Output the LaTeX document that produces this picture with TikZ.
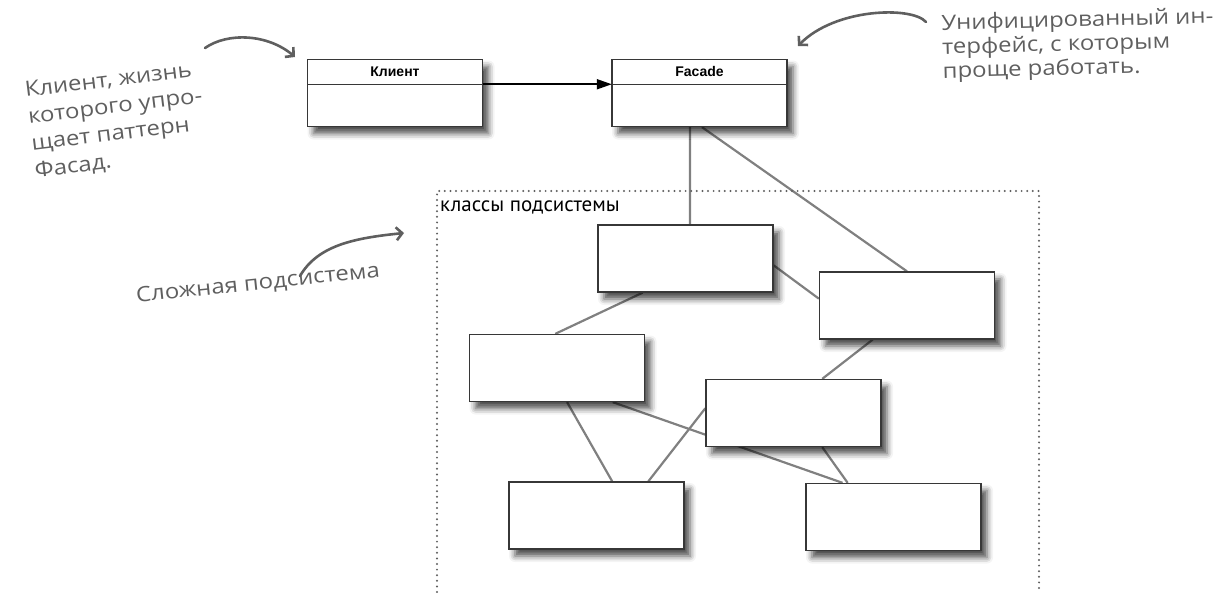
\documentclass[tikz,border=0pt]{standalone}
\usepackage{fontspec}
\setmainfont{Liberation Sans}
\newfontfamily\handfont{Open Sans}[FakeStretch=1.14]
\newfontfamily\labelfont{PT Sans}
\usepackage{xcolor}
\definecolor{notegray}{RGB}{95,95,95}
\definecolor{linkgray}{RGB}{128,128,128}
\definecolor{dotgray}{RGB}{95,95,95}
\definecolor{edgegray}{RGB}{55,55,55}
\usetikzlibrary{arrows.meta,positioning,calc,shadows.blur,backgrounds}

\begin{document}
\begin{tikzpicture}[
  x=1pt, y=-1pt,
  classbox/.style={draw=edgegray,line width=1.3pt,fill=white,minimum width=175pt,minimum height=67pt,
                   inner sep=0pt,blur shadow={shadow xshift=6pt,shadow yshift=-7pt,shadow blur radius=6pt,shadow opacity=70}},
  classhead/.style={font=\bfseries\fontsize{14}{16}\selectfont,minimum width=175pt,minimum height=25pt,inner sep=0pt},
  link/.style={draw=linkgray,line width=2.2pt},
  note/.style={font=\handfont\fontsize{21}{27}\selectfont,text=notegray,align=left,inner sep=0pt},
  notearrow/.style={draw=notegray,line width=2.6pt,line cap=round,-{Straight Barb[length=6pt,width=13pt]}},
]
  \useasboundingbox (0,0) rectangle (1222,592);

  % Client and facade
  \node[classbox] (klient) at (395,93) {};
  \node[classhead,below=0pt of klient.north] (klienthead) {Клиент};
  \draw[edgegray,line width=1.3pt] (klienthead.south west) -- (klienthead.south east);
  \node[classbox] (facade) at (699.5,93) {};
  \node[classhead,below=0pt of facade.north] (facadehead) {Facade};
  \draw[edgegray,line width=1.3pt] (facadehead.south west) -- (facadehead.south east);
  \draw[line width=1.8pt,-{Triangle[length=15pt,width=10pt]}] (klienthead.south east) -- (facadehead.south west);

  % Subsystem frame
  \draw[dotgray,line width=2.2pt,line cap=round,dash pattern=on 0pt off 5.6pt]
    (437,592) -- (437,191) -- (1039,191) -- (1039,592);
  \node[font=\labelfont\fontsize{21}{24}\selectfont,anchor=base west,inner sep=0pt] (sublabel) at (440,211) {классы подсистемы};

  % Subsystem classes
  \node[classbox] (b1) at (685.5,258.5) {};
  \node[classbox] (b2) at (907,305.5) {};
  \node[classbox] (b3) at (557,368) {};
  \node[classbox] (b4) at (793.5,413) {};
  \node[classbox] (b5) at (596.5,515.5) {};
  \node[classbox] (b6) at (893.5,517) {};

  \begin{scope}[on background layer]
    \draw[link] ($(facade.south west)!0.446!(facade.south east)$) -- ($(b1.north west)!0.526!(b1.north east)$);
    \draw[link] ($(facade.south west)!0.514!(facade.south east)$) -- (b2.north);
    \draw[link] ($(b1.north east)!0.6!(b1.south east)$) -- ($(b2.north west)!0.4!(b2.south west)$);
    \draw[link] ($(b1.south west)!0.257!(b1.south east)$) -- ($(b3.north west)!0.49!(b3.north east)$);
    \draw[link] ($(b2.south west)!0.305!(b2.south east)$) -- ($(b4.north west)!0.663!(b4.north east)$);
    \draw[link] ($(b3.south west)!0.557!(b3.south east)$) -- ($(b5.north west)!0.589!(b5.north east)$);
    \draw[link] ($(b3.south west)!0.816!(b3.south east)$) -- ($(b6.north west)!0.211!(b6.north east)$);
    \draw[link] ($(b4.north west)!0.43!(b4.south west)$) -- ($(b5.north west)!0.794!(b5.north east)$);
    \draw[link] ($(b4.south west)!0.663!(b4.south east)$) -- ($(b6.north west)!0.24!(b6.north east)$);
  \end{scope}

  % Notes
  \node[note,rotate=7] (noteclient) at (117,121) {Клиент, жизнь\\которого упро-\\щает паттерн\\Фасад.};
  \node[note,rotate=1.5,anchor=north west,font=\handfont\fontsize{21}{24}\selectfont] (notefacade) at (941,14)
    {Унифицированный ин-\\терфейс, с которым\\проще работать.};
  \node[note,rotate=6] (notesub) at (258,284) {Сложная подсистема};

  \coordinate (clientfrom) at (205,48);
  \coordinate (clientto) at (295,57);
  \draw[notearrow] (clientfrom) .. controls (228,32) and (268,34) .. (clientto);
  \coordinate (facadefrom) at (926,22);
  \coordinate (facadeto) at (798,46);
  \draw[notearrow] (facadefrom) .. controls (912,6) and (835,8) .. (facadeto);
  \coordinate (subfrom) at (300,276);
  \coordinate (subto) at (404,233);
  \draw[notearrow] (subfrom) .. controls (318,245) and (355,238) .. (subto);
\end{tikzpicture}
\end{document}
